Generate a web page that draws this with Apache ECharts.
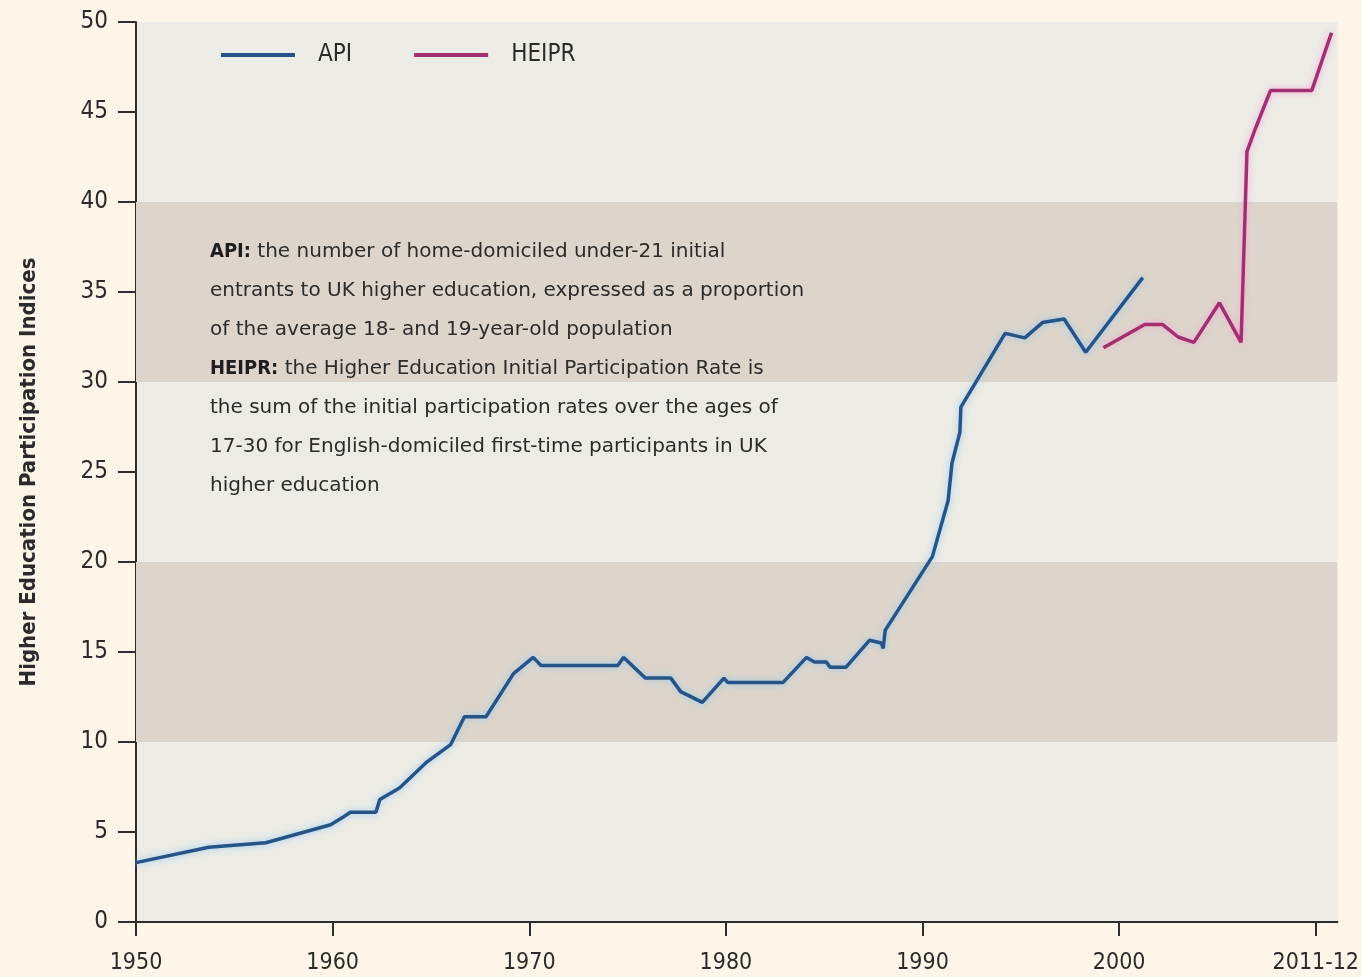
<!DOCTYPE html>
<html>
<head>
<meta charset="utf-8">
<script src="https://cdn.jsdelivr.net/npm/echarts@6/dist/echarts.min.js"></script>
<style>
  html, body { margin: 0; padding: 0; background: #fdf5e8; }
  #main { width: 1362px; height: 977px; }
</style>
</head>
<body>
<div id="main"></div>
<script>
var apiYears = [1950, 1953.7, 1956.6, 1959.9, 1960.5, 1960.9, 1962.2, 1962.4, 1963.4, 1964.8, 1966.0, 1966.7, 1967.8, 1969.2, 1970.2, 1970.6, 1974.5, 1974.8, 1975.9, 1977.2, 1977.7, 1978.8, 1979.9, 1980.1, 1980.7, 1982.9, 1984.1, 1984.5, 1985.1, 1985.3, 1986.1, 1987.3, 1987.9, 1988.0, 1988.1, 1990.5, 1991.3, 1991.5, 1991.9, 1991.95, 1994.2, 1995.2, 1996.1, 1997.2, 1998.3, 2001.2];
var apiValues = [3.3, 4.15, 4.4, 5.4, 5.8, 6.1, 6.1, 6.8, 7.45, 8.9, 9.85, 11.4, 11.4, 13.8, 14.7, 14.25, 14.25, 14.7, 13.55, 13.55, 12.8, 12.2, 13.55, 13.3, 13.3, 13.3, 14.7, 14.45, 14.45, 14.15, 14.15, 15.65, 15.5, 15.2, 16.2, 20.3, 23.4, 25.5, 27.2, 28.6, 32.7, 32.45, 33.3, 33.5, 31.65, 35.8];
var heiprYears = [1999.2, 2001.3, 2002.2, 2003.0, 2003.8, 2005.1, 2006.2, 2006.5, 2006.9, 2007.7, 2009.8, 2010.8];
var heiprValues = [31.9, 33.2, 33.2, 32.5, 32.2, 34.4, 32.2, 42.8, 44.0, 46.2, 46.2, 49.4];
var xTicks = [1950, 1960, 1970, 1980, 1990, 2000, 2010];
var xTickLabels = ['1950', '1960', '1970', '1980', '1990', '2000', '2011-12'];
var shadedBands = [[10, 20], [30, 40]];

var font = "'Liberation Sans Narrow', 'DejaVu Sans Condensed', sans-serif";
var noteFont = "'DejaVu Sans', sans-serif";

function pairs(xs, ys) {
  return xs.map(function (x, i) { return [x, ys[i]]; });
}

var myChart = echarts.init(document.getElementById('main'));
myChart.setOption({
  backgroundColor: '#fdf5e8',
  animation: false,
  grid: {
    left: 136, right: 15, top: 22, bottom: 55,
    show: true, backgroundColor: '#ecebe6', borderWidth: 0
  },
  legend: {
    left: 216, top: 38,
    itemWidth: 74, itemHeight: 4, itemGap: 62,
    icon: 'rect',
    textStyle: { fontFamily: font, fontSize: 24, color: '#2b2b2b', padding: [0, 0, 0, 18] },
    data: ['API', 'HEIPR']
  },
  xAxis: {
    type: 'value', min: 1950, max: 2011.1,
    axisLine: { lineStyle: { color: '#2e2e2e', width: 2 } },
    axisTick: { length: 14, lineStyle: { color: '#2e2e2e', width: 2 }, customValues: xTicks },
    axisLabel: {
      customValues: xTicks, margin: 30, fontFamily: font, fontSize: 23, color: '#2b2b2b',
      formatter: function (v) { return xTickLabels[xTicks.indexOf(v)]; }
    },
    splitLine: { show: false }
  },
  yAxis: {
    type: 'value', min: 0, max: 50, interval: 5,
    name: 'Higher Education Participation Indices',
    nameLocation: 'middle', nameGap: 96, nameRotate: 90,
    nameTextStyle: { fontFamily: font, fontSize: 22, fontWeight: 'bold', color: '#2b2b2b' },
    axisLine: { show: true, lineStyle: { color: '#2e2e2e', width: 2 } },
    axisTick: { show: true, length: 18, lineStyle: { color: '#2e2e2e', width: 2 } },
    axisLabel: { margin: 28, fontFamily: font, fontSize: 24, color: '#2b2b2b' },
    splitLine: { show: false }
  },
  graphic: [{
    type: 'text', left: 210, top: 232, z: 10,
    style: {
      text: '{b|API:} the number of home-domiciled under-21 initial\n' +
            'entrants to UK higher education, expressed as a proportion\n' +
            'of the average 18- and 19-year-old population\n' +
            '{b|HEIPR:} the Higher Education Initial Participation Rate is\n' +
            'the sum of the initial participation rates over the ages of\n' +
            '17-30 for English-domiciled first-time participants in UK\n' +
            'higher education',
      fontFamily: noteFont, fontSize: 20, fill: '#2b2b2b', lineHeight: 39,
      rich: { b: { fontFamily: font, fontSize: 20, fontWeight: 'bold', fill: '#1e1e1e', lineHeight: 39 } }
    }
  }],
  series: [{
    name: 'API', type: 'line', data: pairs(apiYears, apiValues),
    showSymbol: false, symbol: 'none', z: 3,
    color: '#275487',
    lineStyle: { width: 3.5, color: '#275487', shadowColor: 'rgba(140,200,245,0.9)', shadowBlur: 6 },
    markArea: {
      silent: true,
      itemStyle: { color: '#ddd5cb' },
      data: shadedBands.map(function (b) { return [{ yAxis: b[0] }, { yAxis: b[1] }]; })
    }
  }, {
    name: 'HEIPR', type: 'line', data: pairs(heiprYears, heiprValues),
    showSymbol: false, symbol: 'none', z: 3,
    color: '#a3306e',
    lineStyle: { width: 3.5, color: '#a3306e', shadowColor: 'rgba(245,160,220,0.9)', shadowBlur: 6 }
  }]
});
</script>
</body>
</html>
